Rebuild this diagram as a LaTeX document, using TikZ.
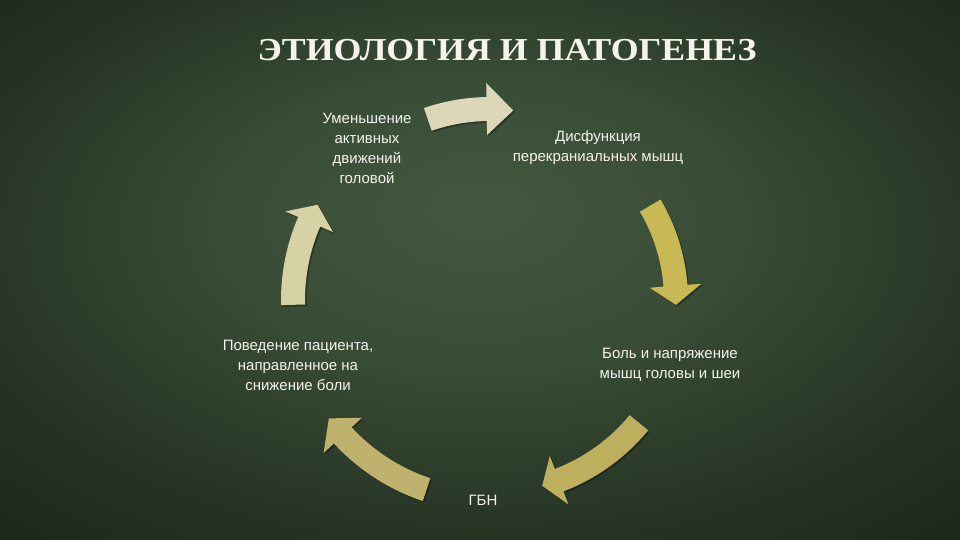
\documentclass[tikz,border=0pt]{standalone}
\usepackage{fontspec}
\setmainfont{Liberation Sans}
\newfontfamily\titlefont[FakeStretch=1.12]{Liberation Serif}
\definecolor{bgin}{HTML}{44583F}
\definecolor{bgmid}{HTML}{384B35}
\definecolor{bgdark}{HTML}{263424}
\definecolor{bgdeep}{HTML}{1B251B}
\definecolor{bgout}{HTML}{131A13}
\definecolor{arA}{HTML}{DCD7B9}
\definecolor{arB}{HTML}{C8B955}
\definecolor{arC}{HTML}{BEAF5F}
\definecolor{arD}{HTML}{BEB26E}
\definecolor{arE}{HTML}{D7D2A5}
\definecolor{txt}{HTML}{F4F3EC}
\pgfdeclareradialshading{bgshade}{\pgfpoint{0bp}{6bp}}{color(0bp)=(bgin); color(14bp)=(bgmid); color(27bp)=(bgdark); color(38bp)=(bgdeep); color(50bp)=(bgout)}
\tikzset{
  lbl/.style={align=center, text=txt, inner sep=0pt, font=\fontsize{15}{20}\selectfont},
  ttl/.style={inner sep=0pt, font=\titlefont\bfseries\fontsize{32}{36}\selectfont},
}
% color, radius, tail angle, head base angle, tip angle
\newcommand\cyclearrow[5]{%
  \begin{scope}[shift={(491.5,238.5)}]
    \fill[black,opacity=0.35] (#3:{#2+12}) arc[start angle=#3,end angle=#4,radius={#2+12}]
      -- (#4:{#2+26}) -- (#5:#2) -- (#4:{#2-26}) -- (#4:{#2-12})
      arc[start angle=#4,end angle=#3,radius={#2-12}] -- cycle;
  \end{scope}
  \begin{scope}[shift={(490,240)}]
    \fill[#1] (#3:{#2+12}) arc[start angle=#3,end angle=#4,radius={#2+12}]
      -- (#4:{#2+26}) -- (#5:#2) -- (#4:{#2-26}) -- (#4:{#2-12})
      arc[start angle=#4,end angle=#3,radius={#2-12}] -- cycle;
  \end{scope}}
\begin{document}
\begin{tikzpicture}[x=1pt,y=1pt]
\useasboundingbox (0,0) rectangle (960,540);
\shade[shading=bgshade] (0,0) rectangle (960,540);

% title
\node[ttl, text=txt] (title) at (507,490) {ЭТИОЛОГИЯ И ПАТОГЕНЕЗ};

% arrows
\cyclearrow{arA}{191}{109}{91}{83}
\cyclearrow{arB}{186}{30.5}{4.4}{-1.5}
\cyclearrow{arC}{193}{-39.5}{-69}{-74.3}
\cyclearrow{arD}{200}{-108.5}{-137.4}{-143.7}
\cyclearrow{arE}{197}{-178.6}{-203.4}{-208.9}

% labels
\node[lbl] (n1) at (367,392) {Уменьшение\\активных\\движений\\головой};
\node[lbl] (n2) at (598,392) {Дисфункция\\перекраниальных мышц};
\node[lbl] (n3) at (670,175) {Боль и напряжение\\мышц головы и шеи};
\node[lbl] (n4) at (298,175) {Поведение пациента,\\направленное на\\снижение боли};
\node[lbl] (n5) at (483,40) {ГБН};
\end{tikzpicture}
\end{document}
